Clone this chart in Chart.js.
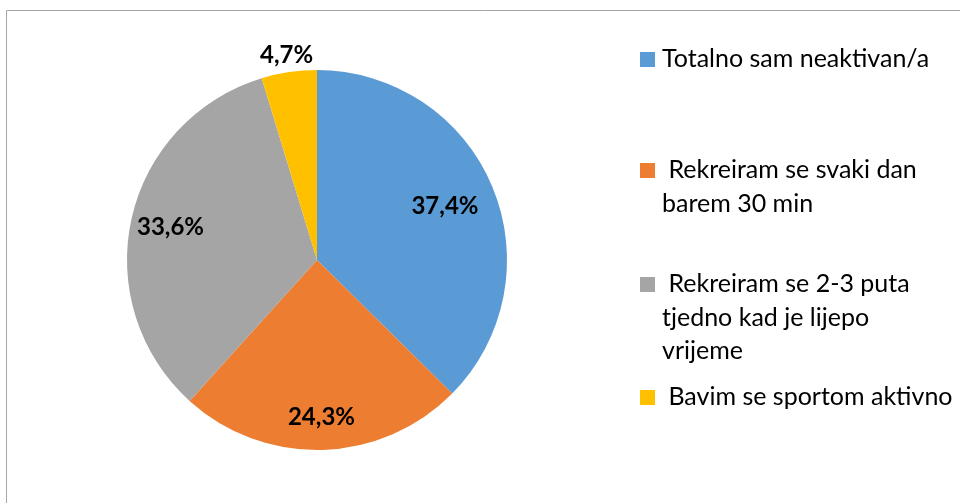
<!DOCTYPE html>
<html>
<head>
<meta charset="utf-8">
<script src="https://cdn.jsdelivr.net/npm/chart.js@4"></script>
<style>
html,body{margin:0;padding:0;background:#fff;}
#wrap{position:relative;width:960px;height:503px;}
</style>
</head>
<body>
<div id="wrap"><canvas id="c" width="960" height="503"></canvas></div>
<script>
const categories = [
  ["Totalno sam neaktivan/a"],
  [" Rekreiram se svaki dan", "barem 30 min"],
  [" Rekreiram se 2-3 puta", "tjedno kad je lijepo", "vrijeme"],
  [" Bavim se sportom aktivno"]
];
const values = [37.4, 24.3, 33.6, 4.7];
const valueLabels = ["37,4%", "24,3%", "33,6%", "4,7%"];
const colors = ["#5B9BD5", "#ED7D31", "#A5A5A5", "#FFC000"];

// layout (positions only)
const labelRadiusFrac = [0.73, 0.83, 0.79, 1.09];
const legendX = 640, legendTextX = 662;
const legendBaselines = [67, 178, 292, 405];
const legendLineH = 33.5;
const FONT = "Lato, 'Open Sans', sans-serif";

const decor = {
  id: 'decor',
  afterDraw(chart) {
    const ctx = chart.ctx;
    ctx.save();
    // frame
    ctx.strokeStyle = '#a6a6a6';
    ctx.lineWidth = 1;
    ctx.beginPath();
    ctx.moveTo(6.5, 503);
    ctx.lineTo(6.5, 10.5);
    ctx.lineTo(960, 10.5);
    ctx.stroke();
    // value labels
    const meta = chart.getDatasetMeta(0);
    ctx.fillStyle = '#000';
    ctx.font = "bold 24px " + FONT;
    ctx.textAlign = 'center';
    ctx.textBaseline = 'middle';
    meta.data.forEach((arc, i) => {
      const p = arc.getProps(['x','y','startAngle','endAngle','outerRadius'], true);
      const a = (p.startAngle + p.endAngle) / 2;
      const r = p.outerRadius * labelRadiusFrac[i];
      ctx.fillText(valueLabels[i], p.x + Math.cos(a) * r, p.y + Math.sin(a) * r);
    });
    // legend
    ctx.font = "25px " + FONT;
    ctx.textAlign = 'left';
    ctx.textBaseline = 'alphabetic';
    chart.data.labels.forEach((lines, i) => {
      const b = legendBaselines[i];
      ctx.fillStyle = chart.data.datasets[0].backgroundColor[i];
      ctx.fillRect(legendX, b - 15, 15, 15);
      ctx.fillStyle = '#000';
      lines.forEach((t, j) => ctx.fillText(t, legendTextX, b + j * legendLineH));
    });
    ctx.restore();
  }
};

new Chart(document.getElementById('c'), {
  type: 'pie',
  data: {
    labels: categories,
    datasets: [{
      data: values,
      backgroundColor: colors,
      borderWidth: 0
    }]
  },
  options: {
    responsive: false,
    animation: false,
    layout: { padding: { left: 127, right: 453, top: 70, bottom: 53 } },
    plugins: { legend: { display: false }, tooltip: { enabled: false } }
  },
  plugins: [decor]
});
</script>
</body>
</html>
